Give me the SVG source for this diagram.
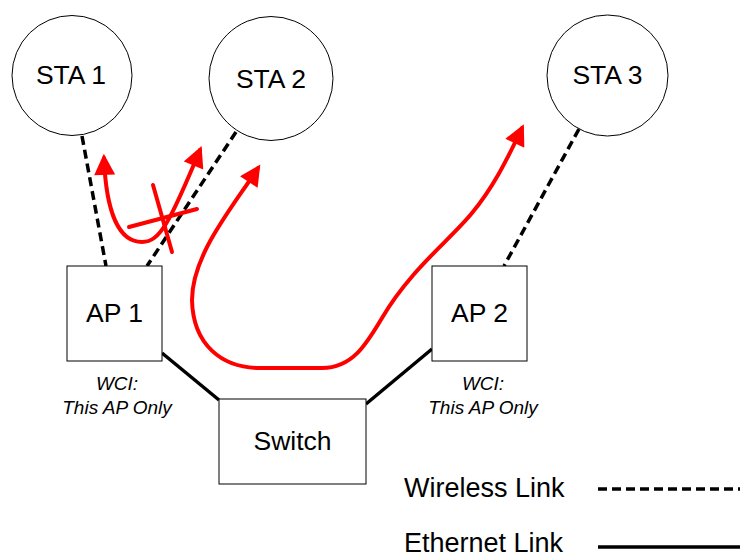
<svg xmlns="http://www.w3.org/2000/svg" width="740" height="554" viewBox="0 0 740 554">
<style>
.node{fill:#fff;stroke:#000;stroke-width:1}
.lbl{font-family:"Liberation Sans",Arial,sans-serif;font-size:26.5px;fill:#000;text-anchor:middle}
.leg{font-family:"Liberation Sans",Arial,sans-serif;font-size:27px;fill:#000;text-anchor:start}
.wci{font-family:"Liberation Sans",Arial,sans-serif;font-size:19px;font-style:italic;fill:#000;text-anchor:middle}
.wl{fill:none;stroke:#000;stroke-width:3.5;stroke-dasharray:9 5}
.el{fill:none;stroke:#000;stroke-width:3.5}
.red{fill:none;stroke:#f00;stroke-width:4;stroke-linecap:round}
</style>
<defs>
<marker id="ah" viewBox="0 0 10 10" refX="8" refY="5" markerUnits="userSpaceOnUse" markerWidth="22" markerHeight="21" orient="auto-start-reverse">
<path d="M0,0 L10,5 L0,10 z" fill="#f00"/>
</marker>
</defs>
<g id="connectors">
<line class="wl" x1="82" y1="136" x2="106" y2="266"/>
<line class="wl" x1="236" y1="132" x2="147" y2="266"/>
<line class="wl" x1="579" y1="129" x2="504" y2="266"/>
<line class="el" x1="162" y1="353" x2="219" y2="400"/>
<line class="el" x1="366" y1="404" x2="432" y2="349"/>
</g>
<g id="sta1"><circle class="node" cx="72" cy="75.5" r="60"/><text class="lbl" x="71" y="84">STA 1</text></g>
<g id="sta2"><circle class="node" cx="271" cy="78.5" r="62"/><text class="lbl" x="271" y="88">STA 2</text></g>
<g id="sta3"><circle class="node" cx="607.5" cy="75.5" r="60.5"/><text class="lbl" x="607.5" y="84">STA 3</text></g>
<g id="ap1"><rect class="node" x="67" y="266" width="95" height="95"/><text class="lbl" x="114.5" y="322">AP 1</text>
<text class="wci" x="117" y="390">WCI:</text><text class="wci" x="117" y="414">This AP Only</text></g>
<g id="ap2"><rect class="node" x="432" y="266" width="95" height="95"/><text class="lbl" x="479.5" y="322">AP 2</text>
<text class="wci" x="483" y="390">WCI:</text><text class="wci" x="483" y="414">This AP Only</text></g>
<g id="switch"><rect class="node" x="219" y="399" width="147" height="85"/><text class="lbl" x="292.5" y="450">Switch</text></g>
<g id="flows">
<path class="red" d="M104,158 C106,210 118,242 142,242 C160,242 170,222 200,150" marker-start="url(#ah)" marker-end="url(#ah)"/>
<line class="red" x1="153" y1="185" x2="172" y2="252"/>
<line class="red" x1="129" y1="227" x2="197" y2="209"/>
<path class="red" d="M258,168 C232,208 192,255 192,300 C193,345 222,368 260,368 L322,368 C352,368 366,345 382,318 C410,270 450,240 472,213 C492,189 506,162 522,128" marker-start="url(#ah)" marker-end="url(#ah)"/>
</g>
<g id="legend">
<text class="leg" x="404" y="497">Wireless Link</text>
<line class="wl" x1="598" y1="489" x2="740" y2="489"/>
<text class="leg" x="404" y="552">Ethernet Link</text>
<line class="el" x1="598" y1="547" x2="740" y2="547"/>
</g>
</svg>
